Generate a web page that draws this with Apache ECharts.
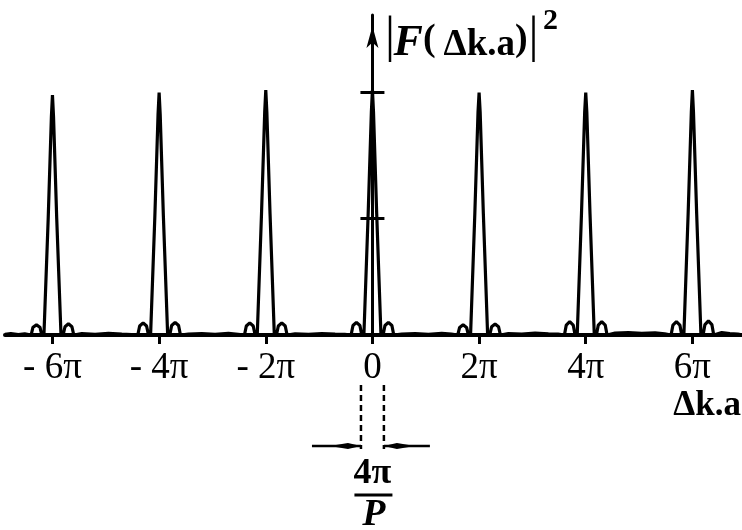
<!DOCTYPE html>
<html><head><meta charset="utf-8">
<script src="https://cdn.jsdelivr.net/npm/echarts@6/dist/echarts.min.js"></script>
<style>html,body{margin:0;padding:0;background:#fff}#c{width:742px;height:530px}</style>
</head><body><div id="c"></div>
<script>
// x in units of pi, y = relative intensity |F|^2
const xTickValues = [-6, -4, -2, 0, 2, 4, 6];
const xTickLabels = ['- 6π', '- 4π', '- 2π', '0', '2π', '4π', '6π'];
const yTickValues = [0.48, 1.0];
const widthMarks = [-0.215, 0.215]; // the 4π/P band around the central peak

const edgeLeft = [[-6.89,0.003],[-6.78,0.006],[-6.64,0.002],[-6.52,0.005]];
const peakM6 = [[-6.40,0],[-6.365,0.032],[-6.30,0.042],[-6.235,0.032],[-6.20,0],[-6.16,0],[-6.08,0.48],[-6.02,0.9],[-6.0,0.99],[-5.98,0.9],[-5.92,0.48],[-5.84,0],[-5.80,0],[-5.765,0.034],[-5.70,0.046],[-5.635,0.034],[-5.60,0]];
const gap1 = [[-5.45,0.006],[-5.2,0.003],[-4.95,0.007],[-4.7,0.004],[-4.52,0.002]];
const peakM4 = [[-4.40,0],[-4.365,0.037],[-4.30,0.05],[-4.235,0.037],[-4.20,0],[-4.16,0],[-4.08,0.49],[-4.02,0.91],[-4.0,1.0],[-3.98,0.91],[-3.92,0.49],[-3.84,0],[-3.80,0],[-3.765,0.039],[-3.70,0.052],[-3.635,0.039],[-3.60,0]];
const gap2 = [[-3.45,0.004],[-3.2,0.006],[-2.95,0.003],[-2.7,0.007],[-2.52,0.003]];
const peakM2 = [[-2.40,0],[-2.365,0.037],[-2.30,0.05],[-2.235,0.037],[-2.20,0],[-2.16,0],[-2.08,0.5],[-2.02,0.92],[-2.0,1.01],[-1.98,0.92],[-1.92,0.5],[-1.84,0],[-1.80,0],[-1.765,0.037],[-1.70,0.05],[-1.635,0.037],[-1.60,0]];
const gap3 = [[-1.45,0.005],[-1.2,0.003],[-0.95,0.006],[-0.7,0.004],[-0.52,0.003]];
const peak0 = [[-0.40,0],[-0.365,0.039],[-0.30,0.052],[-0.235,0.039],[-0.20,0],[-0.16,0],[-0.08,0.5],[-0.02,0.92],[0,1.01],[0.02,0.92],[0.08,0.5],[0.16,0],[0.20,0],[0.235,0.039],[0.30,0.052],[0.365,0.039],[0.40,0]];
const gap4 = [[0.55,0.004],[0.8,0.006],[1.05,0.003],[1.3,0.007],[1.48,0.004]];
const peak2 = [[1.60,0],[1.635,0.031],[1.70,0.042],[1.765,0.031],[1.80,0],[1.84,0],[1.92,0.5],[1.98,0.92],[2.0,1.0],[2.02,0.92],[2.08,0.5],[2.16,0],[2.20,0],[2.235,0.034],[2.30,0.045],[2.365,0.034],[2.40,0]];
const gap5 = [[2.55,0.006],[2.8,0.004],[3.05,0.008],[3.3,0.005],[3.48,0.004]];
const peak4 = [[3.60,0],[3.635,0.041],[3.70,0.055],[3.765,0.041],[3.80,0],[3.84,0],[3.92,0.5],[3.98,0.92],[4.0,1.0],[4.02,0.92],[4.08,0.5],[4.16,0],[4.20,0],[4.235,0.041],[4.30,0.055],[4.365,0.041],[4.40,0]];
const gap6 = [[4.55,0.008],[4.8,0.01],[5.05,0.007],[5.3,0.009],[5.48,0.005]];
const peak6 = [[5.60,0],[5.635,0.041],[5.70,0.055],[5.765,0.041],[5.80,0],[5.84,0],[5.92,0.5],[5.98,0.92],[6.0,1.01],[6.02,0.92],[6.08,0.5],[6.16,0],[6.20,0],[6.235,0.043],[6.30,0.058],[6.365,0.043],[6.40,0]];
const edgeRight = [[6.55,0.01],[6.7,0.006],[6.85,0.004],[6.93,0]];

const curve = [].concat(edgeLeft, peakM6, gap1, peakM4, gap2, peakM2, gap3, peak0,
  gap4, peak2, gap5, peak4, gap6, peak6, edgeRight);

const SERIF = '"Liberation Serif","DejaVu Serif",serif';
const chart = echarts.init(document.getElementById('c'), null, {renderer: 'canvas'});
chart.setOption({
  animation: false,
  grid: {left: 5, right: 0, top: 15, bottom: 195},
  xAxis: {
    type: 'value', min: -6.89, max: 6.93,
    axisLine: {onZero: false, lineStyle: {color: '#000', width: 4}},
    axisTick: {customValues: xTickValues, length: 9, lineStyle: {color: '#000', width: 3}},
    axisLabel: {customValues: xTickValues, formatter: v => xTickLabels[xTickValues.indexOf(v)],
      fontFamily: SERIF, fontSize: 37, color: '#000', margin: 15},
    splitLine: {show: false}
  },
  yAxis: [{
    type: 'value', min: 0, max: 1.32, position: 'left',
    axisLine: {show: true, onZero: true, onZeroAxisIndex: 0, symbol: ['none', 'arrow'],
      symbolSize: [9, 22], symbolOffset: [0, -11], lineStyle: {color: '#000', width: 3}},
    axisTick: {show: true, customValues: yTickValues, length: 12, lineStyle: {color: '#000', width: 3}},
    axisLabel: {show: false}, splitLine: {show: false}
  }, {
    type: 'value', min: 0, max: 1.32, position: 'left',
    axisLine: {show: false, onZero: true, onZeroAxisIndex: 0},
    axisTick: {show: true, inside: true, customValues: yTickValues, length: 12, lineStyle: {color: '#000', width: 3}},
    axisLabel: {show: false}, splitLine: {show: false}
  }],
  series: [{type: 'line', data: curve, symbol: 'none', showSymbol: false,
    lineStyle: {color: '#000', width: 3.2}, z: 3}]
});

const x0 = chart.convertToPixel({xAxisIndex: 0}, 0);
const xl = chart.convertToPixel({xAxisIndex: 0}, widthMarks[0]);
const xr = chart.convertToPixel({xAxisIndex: 0}, widthMarks[1]);
const ya = 446;
function txt(x, y, text, size, weight, style, align) {
  return {type: 'text', x: x, y: y, style: {text: text, fontFamily: SERIF, fontSize: size,
    fontWeight: weight, fontStyle: style, fill: '#000', align: align, verticalAlign: 'middle'}};
}
chart.setOption({
  graphic: [
    txt(x0 + 17.5, 38, '|', 50, 'normal', 'normal', 'center'),
    txt(x0 + 21, 43.6, 'F', 44, 'bold', 'italic', 'left'),
    txt(x0 + 57, 40, '(', 38, 'bold', 'normal', 'center'),
    txt(x0 + 71, 45.5, 'Δk.a', 37, 'bold', 'normal', 'left'),
    txt(x0 + 149, 40, ')', 38, 'bold', 'normal', 'center'),
    txt(x0 + 161, 38, '|', 50, 'normal', 'normal', 'center'),
    txt(x0 + 178, 21, '2', 30, 'bold', 'normal', 'center'),
    txt(741, 406, 'Δk.a', 35, 'bold', 'normal', 'right'),
    {type: 'line', shape: {x1: xl, y1: 385, x2: xl, y2: 449}, style: {stroke: '#000', lineWidth: 2.5, lineDash: [6, 4]}},
    {type: 'line', shape: {x1: xr, y1: 385, x2: xr, y2: 449}, style: {stroke: '#000', lineWidth: 2.5, lineDash: [6, 4]}},
    {type: 'line', shape: {x1: xl - 49, y1: ya, x2: xl, y2: ya}, style: {stroke: '#000', lineWidth: 2.5}},
    {type: 'polygon', shape: {points: [[xl - 31, ya], [xl - 13, ya - 3], [xl, ya], [xl - 13, ya + 3]]}, style: {fill: '#000'}},
    {type: 'line', shape: {x1: xr, y1: ya, x2: xr + 46, y2: ya}, style: {stroke: '#000', lineWidth: 2.5}},
    {type: 'polygon', shape: {points: [[xr, ya], [xr + 13, ya - 3], [xr + 31, ya], [xr + 13, ya + 3]]}, style: {fill: '#000'}},
    txt(x0, 473.5, '4π', 36, 'bold', 'normal', 'center'),
    {type: 'line', shape: {x1: x0 - 18, y1: 495, x2: x0 + 20, y2: 495}, style: {stroke: '#000', lineWidth: 3}},
    txt(x0 + 1.5, 515, 'P', 38, 'bold', 'italic', 'center')
  ]
});
</script></body></html>
